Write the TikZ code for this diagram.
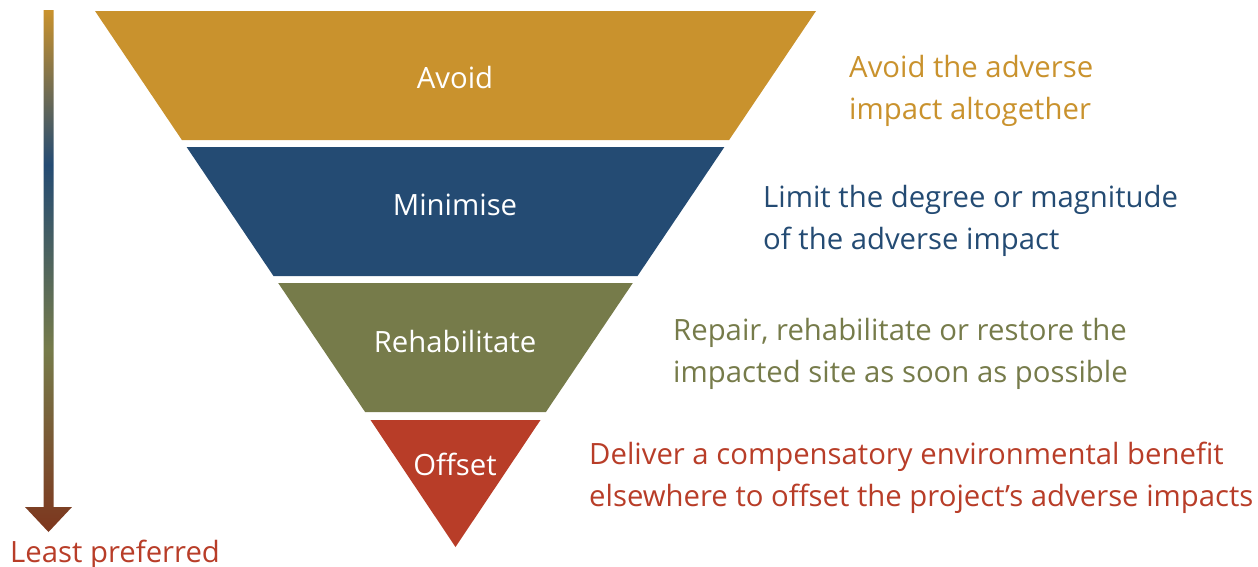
\documentclass[tikz,border=0pt]{standalone}
\usepackage{fontspec}
\setmainfont{Open Sans}
\definecolor{gold}{RGB}{201,146,45}
\definecolor{navy}{RGB}{36,75,115}
\definecolor{olive}{RGB}{118,123,74}
\definecolor{brick}{RGB}{184,61,40}
\definecolor{rust}{RGB}{125,54,30}
% colour ramp of the preference arrow, bottom (25bp) to top (75bp)
\pgfdeclareverticalshading{preframp}{100bp}{%
  color(0bp)=(rust); color(25bp)=(rust); color(42.4bp)=(olive);
  color(60.2bp)=(navy); color(75bp)=(gold); color(100bp)=(gold)}
\begin{document}
\begin{tikzpicture}[x=1pt,y=-1pt,
  txt/.style={font=\fontsize{29.3}{41.8}\selectfont, inner sep=0pt},
  band/.style={txt, text=white, anchor=base},
  note/.style={txt, anchor=west, align=left}]
\useasboundingbox (0,0) rectangle (1258,566);

% hierarchy bands
\fill[gold]  (95,11) -- (816,11) -- (729.1,140) -- (181.9,140) -- cycle;
\fill[navy]  (186.6,147) -- (724.4,147) -- (637.5,276) -- (273.5,276) -- cycle;
\fill[olive] (278.2,283) -- (632.8,283) -- (545.9,412) -- (365.1,412) -- cycle;
\fill[brick] (370.5,420) -- (540.5,420) -- (455.5,547) -- cycle;

\node[band] (avoid)  at (455,88)  {Avoid};
\node[band] (minim)  at (455,215) {Minimise};
\node[band] (rehab)  at (455,352) {Rehabilitate};
\node[band] (offset) at (455,475) {Offset};

% descriptions
\node[note, text=gold]  (davoid)  at (849,91)  {Avoid the adverse\\impact altogether};
\node[note, text=navy]  (dminim)  at (763,220.5) {Limit the degree or magnitude\\of the adverse impact};
\node[note, text=olive] (drehab)  at (673,354) {Repair, rehabilitate or restore the\\impacted site as soon as possible};
\node[note, text=brick] (doffset) at (589,478) {Deliver a compensatory environmental benefit\\elsewhere to offset the project’s adverse impacts};

% preference arrow
\shade[shading=preframp]
  (43.5,10) -- (53.5,10) -- (53.5,507) -- (72,507) -- (48.5,532)
  -- (25,507) -- (43.5,507) -- cycle;
\node[txt, text=brick, anchor=base west] (least) at (10,562) {Least preferred};
\end{tikzpicture}
\end{document}
